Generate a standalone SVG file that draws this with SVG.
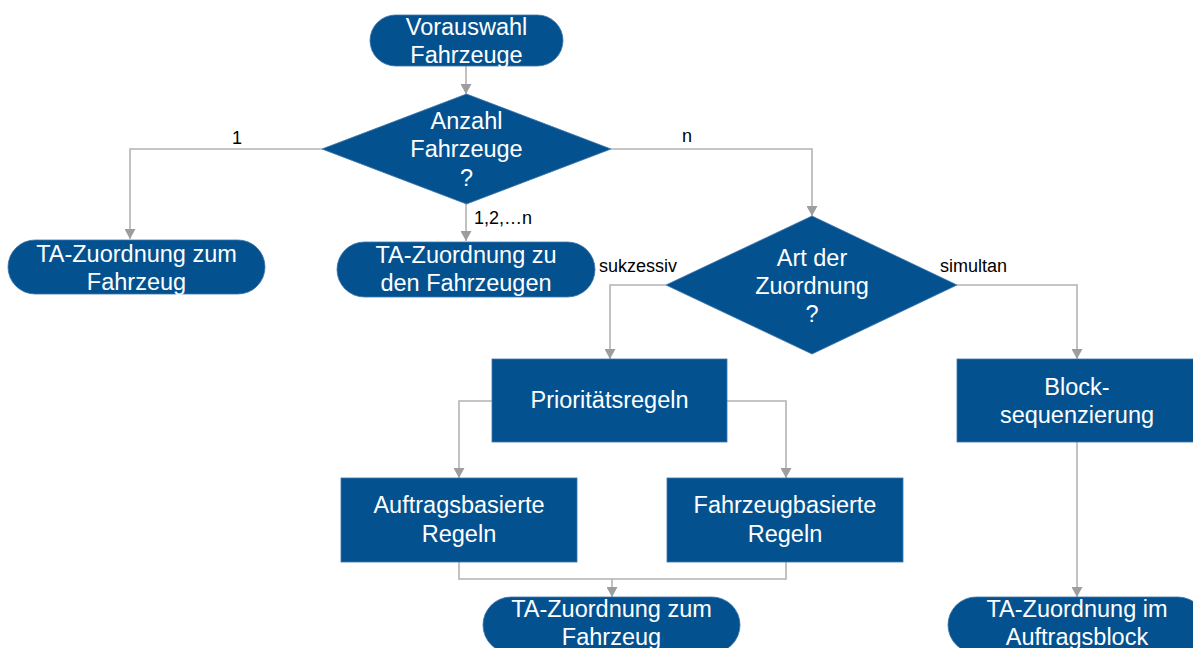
<svg xmlns="http://www.w3.org/2000/svg" width="1193" height="648" viewBox="0 0 1193 648">
  <style>
    .node { fill: #03528f; stroke: #3d74ab; stroke-width: 0.8; }
    .txt { font-family: "Liberation Sans", Arial, sans-serif; font-size: 23.5px; fill: #ffffff; text-anchor: middle; }
    .lbl { font-family: "Liberation Sans", Arial, sans-serif; font-size: 18px; fill: #000000; }
    .conn { fill: none; stroke: #b3b3b3; stroke-width: 1.6; }
  </style>
  <defs>
    <marker id="arrow" viewBox="0 0 10 11" refX="10" refY="5.5" markerWidth="10" markerHeight="11" markerUnits="userSpaceOnUse" orient="auto">
      <path d="M0,0 L10,5.5 L0,11 Z" fill="#9d9d9d"/>
    </marker>
  </defs>
  <rect width="1193" height="648" fill="#ffffff"/>

  <!-- connectors -->
  <g id="connectors">
    <polyline class="conn" points="466,66 466,94" marker-end="url(#arrow)"/>
    <polyline class="conn" points="322,149 130,149 130,239" marker-end="url(#arrow)"/>
    <polyline class="conn" points="611,149 812,149 812,216" marker-end="url(#arrow)"/>
    <polyline class="conn" points="466,204 466,241" marker-end="url(#arrow)"/>
    <polyline class="conn" points="666,285 610,285 610,359" marker-end="url(#arrow)"/>
    <polyline class="conn" points="957,285 1077,285 1077,359" marker-end="url(#arrow)"/>
    <polyline class="conn" points="492,401 459,401 459,478" marker-end="url(#arrow)"/>
    <polyline class="conn" points="727,401 786,401 786,478" marker-end="url(#arrow)"/>
    <polyline class="conn" points="459,562 459,579 786,579 786,562"/>
    <polyline class="conn" points="612,579 612,597" marker-end="url(#arrow)"/>
    <polyline class="conn" points="1077,442 1077,597" marker-end="url(#arrow)"/>
    <text class="lbl" x="237" y="144" text-anchor="middle">1</text>
    <text class="lbl" x="687" y="142" text-anchor="middle">n</text>
    <text class="lbl" x="474" y="224">1,2,…n</text>
    <text class="lbl" x="599" y="272">sukzessiv</text>
    <text class="lbl" x="940" y="272">simultan</text>
  </g>

  <g id="vorauswahl">
    <rect class="node" x="370" y="15" width="193" height="51" rx="25.5"/>
    <text class="txt" x="466.5" y="35">Vorauswahl</text>
    <text class="txt" x="466.5" y="63">Fahrzeuge</text>
  </g>

  <g id="anzahl">
    <polygon class="node" points="322,149 466.5,94 611,149 466.5,204"/>
    <text class="txt" x="466.5" y="129">Anzahl</text>
    <text class="txt" x="466.5" y="157">Fahrzeuge</text>
    <text class="txt" x="466.5" y="186">?</text>
  </g>

  <g id="zuordnung-einzel">
    <rect class="node" x="8" y="240" width="257" height="54" rx="27"/>
    <text class="txt" x="136.5" y="262">TA-Zuordnung zum</text>
    <text class="txt" x="136.5" y="290">Fahrzeug</text>
  </g>

  <g id="zuordnung-mehrere">
    <rect class="node" x="337" y="242" width="258" height="55" rx="27.5"/>
    <text class="txt" x="466" y="263">TA-Zuordnung zu</text>
    <text class="txt" x="466" y="291">den Fahrzeugen</text>
  </g>

  <g id="art">
    <polygon class="node" points="666,285 812,216 957,285 812,354"/>
    <text class="txt" x="812" y="266">Art der</text>
    <text class="txt" x="812" y="294">Zuordnung</text>
    <text class="txt" x="812" y="322">?</text>
  </g>

  <g id="prioritaet">
    <rect class="node" x="492" y="359" width="235" height="83"/>
    <text class="txt" x="609.5" y="408">Prioritätsregeln</text>
  </g>

  <g id="block">
    <rect class="node" x="957" y="359" width="240" height="83"/>
    <text class="txt" x="1077" y="395">Block-</text>
    <text class="txt" x="1077" y="423">sequenzierung</text>
  </g>

  <g id="auftragsbasiert">
    <rect class="node" x="341" y="478" width="236" height="84"/>
    <text class="txt" x="459" y="513">Auftragsbasierte</text>
    <text class="txt" x="459" y="542">Regeln</text>
  </g>

  <g id="fahrzeugbasiert">
    <rect class="node" x="667" y="478" width="236" height="84"/>
    <text class="txt" x="785" y="513">Fahrzeugbasierte</text>
    <text class="txt" x="785" y="542">Regeln</text>
  </g>

  <g id="zuordnung-regeln">
    <rect class="node" x="483" y="597" width="257" height="56" rx="28"/>
    <text class="txt" x="611.5" y="617">TA-Zuordnung zum</text>
    <text class="txt" x="611.5" y="645">Fahrzeug</text>
  </g>

  <g id="zuordnung-block">
    <rect class="node" x="948" y="597" width="258" height="56" rx="28"/>
    <text class="txt" x="1077" y="617">TA-Zuordnung im</text>
    <text class="txt" x="1077" y="645">Auftragsblock</text>
  </g>
</svg>
